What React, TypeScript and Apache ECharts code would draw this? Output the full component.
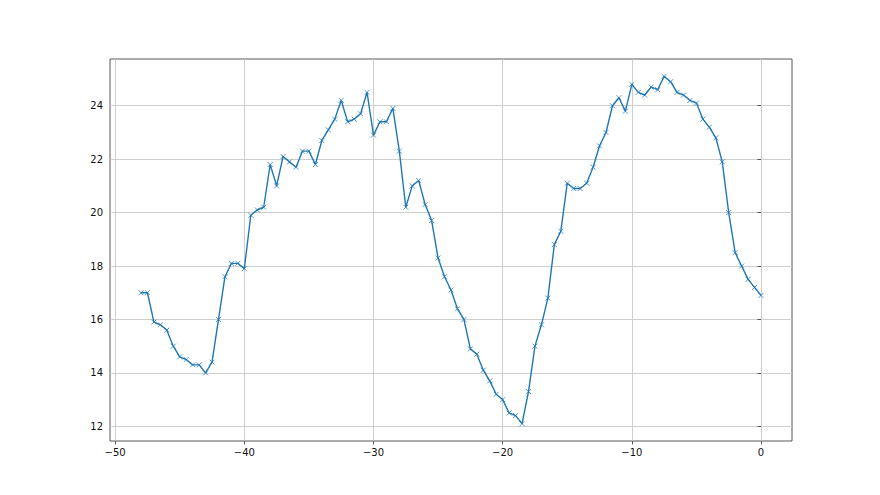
import React, { useEffect, useRef } from "react";
import * as echarts from "echarts";

const xValues = [
  -48, -47.5, -47, -46.5, -46, -45.5, -45, -44.5, -44, -43.5, -43, -42.5, -42, -41.5, -41, -40.5,
  -40, -39.5, -39, -38.5, -38, -37.5, -37, -36.5, -36, -35.5, -35, -34.5, -34, -33.5, -33, -32.5,
  -32, -31.5, -31, -30.5, -30, -29.5, -29, -28.5, -28, -27.5, -27, -26.5, -26, -25.5, -25, -24.5,
  -24, -23.5, -23, -22.5, -22, -21.5, -21, -20.5, -20, -19.5, -19, -18.5, -18, -17.5, -17, -16.5,
  -16, -15.5, -15, -14.5, -14, -13.5, -13, -12.5, -12, -11.5, -11, -10.5, -10, -9.5, -9, -8.5,
  -8, -7.5, -7, -6.5, -6, -5.5, -5, -4.5, -4, -3.5, -3, -2.5, -2, -1.5, -1, -0.5, 0,
];

const yValues = [
  17.0, 17.0, 15.9, 15.8, 15.6, 15.0, 14.6, 14.5, 14.3, 14.3, 14.0, 14.4, 16.0, 17.6, 18.1, 18.1,
  17.9, 19.9, 20.1, 20.2, 21.8, 21.0, 22.1, 21.9, 21.7, 22.3, 22.3, 21.8, 22.7, 23.1, 23.5, 24.2,
  23.4, 23.5, 23.7, 24.5, 22.9, 23.4, 23.4, 23.9, 22.3, 20.2, 21.0, 21.2, 20.3, 19.7, 18.3, 17.6,
  17.1, 16.4, 16.0, 14.9, 14.7, 14.1, 13.7, 13.2, 13.0, 12.5, 12.4, 12.1, 13.3, 15.0, 15.8, 16.8,
  18.8, 19.3, 21.1, 20.9, 20.9, 21.1, 21.7, 22.5, 23.0, 24.0, 24.3, 23.8, 24.8, 24.5, 24.4, 24.7,
  24.6, 25.1, 24.9, 24.5, 24.4, 24.2, 24.1, 23.5, 23.2, 22.8, 21.9, 20.0, 18.5, 18.0, 17.5, 17.2,
  16.9,
];

const xTicks = [-50, -40, -30, -20, -10, 0];
const yTicks = [12, 14, 16, 18, 20, 22, 24];

const fmt = (v: number) => String(v).replace("-", "\u2212");

export default function App() {
  const ref = useRef<HTMLDivElement>(null);
  useEffect(() => {
    document.body.style.margin = "0";
    if (!ref.current) return;
    const chart = echarts.init(ref.current, undefined, { renderer: "svg" });
    const font = "DejaVu Sans";
    const axisCommon = {
      type: "value" as const,
      axisLine: { show: false },
      axisTick: { show: true, inside: false, length: 3.5, lineStyle: { color: "#333", width: 0.8 } },
      splitLine: { show: true, lineStyle: { color: "#c8c8c8", width: 0.9 } },
    };
    chart.setOption({
      animation: false,
      backgroundColor: "#fff",
      grid: {
        left: 110,
        right: 88,
        top: 59,
        bottom: 54,
        show: true,
        borderColor: "#444",
        borderWidth: 0.9,
        backgroundColor: "transparent",
      },
      xAxis: {
        ...axisCommon,
        min: -50.4,
        max: 2.4,
        axisTick: { ...axisCommon.axisTick, customValues: xTicks },
        axisLabel: {
          customValues: xTicks,
          formatter: fmt,
          fontFamily: font,
          fontSize: 10,
          color: "#111",
          margin: 6,
        },
      },
      yAxis: {
        ...axisCommon,
        min: 11.45,
        max: 25.75,
        axisTick: { ...axisCommon.axisTick, customValues: yTicks },
        axisLabel: {
          customValues: yTicks,
          formatter: fmt,
          fontFamily: font,
          fontSize: 10,
          color: "#111",
          margin: 7,
        },
      },
      series: [
        {
          type: "line",
          data: xValues.map((x, i) => [x, yValues[i]]),
          lineStyle: { color: "#1f77b4", width: 1.4 },
          symbol: "path://M0,0L10,10M10,0L0,10",
          symbolSize: 5,
          showSymbol: true,
          itemStyle: { color: "#1f77b4", borderColor: "#1f77b4", borderWidth: 0.9, opacity: 0.85 },
          z: 3,
        },
      ],
    });
    return () => chart.dispose();
  }, []);
  return <div ref={ref} style={{ width: 880, height: 495 }} />;
}
